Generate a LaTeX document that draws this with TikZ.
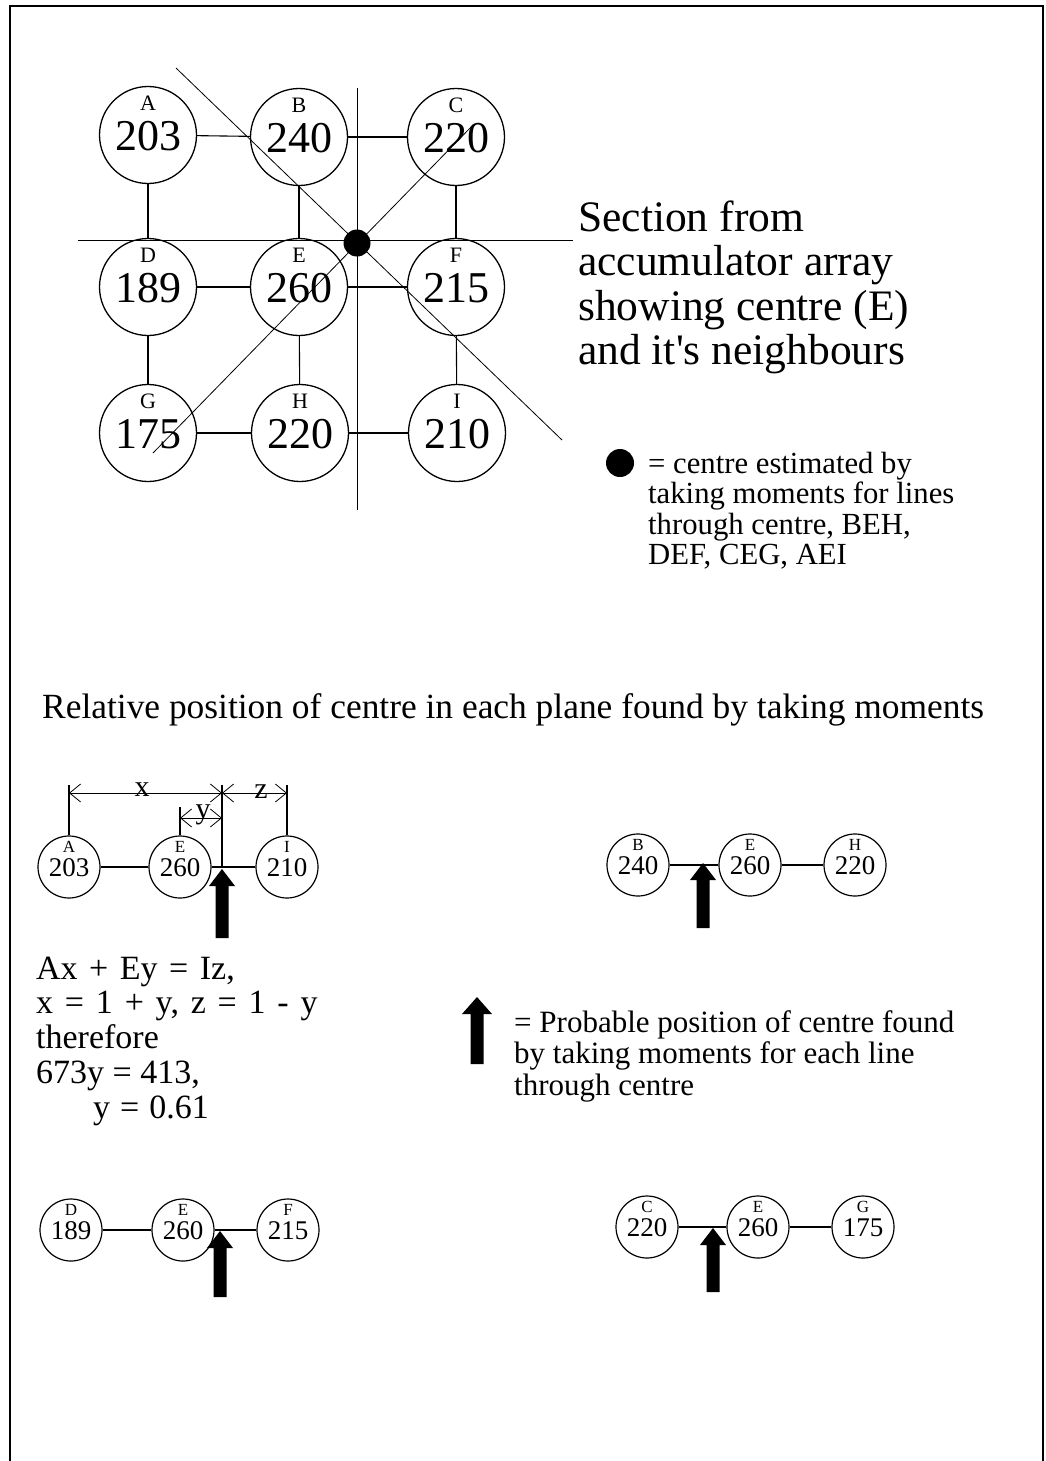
\documentclass[tikz,border=0pt]{standalone}
\usepackage{fontspec}
\setmainfont{Liberation Serif}
\usetikzlibrary{arrows.meta}
\newcommand\fatarrow[4]{% x, tip y, bottom y, head half-width
  \fill (#1,#2) -- (#1+#4,#2+17) -- (#1+6.5,#2+17) -- (#1+6.5,#3) -- (#1-6.5,#3) -- (#1-6.5,#2+17) -- (#1-#4,#2+17) -- cycle;}
\begin{document}
\begin{tikzpicture}[x=1pt,y=-1pt,
  bigcell/.style={circle,draw,line width=1.3pt,minimum size=97pt,inner sep=0pt},
  bignum/.style={font=\fontsize{44}{44}\selectfont,inner sep=0pt},
  biglet/.style={font=\fontsize{22}{22}\selectfont,inner sep=0pt},
  smallcell/.style={circle,draw,line width=1.2pt,minimum size=62pt,inner sep=0pt},
  smallnum/.style={font=\fontsize{27}{27}\selectfont,inner sep=0pt},
  smalllet/.style={font=\fontsize{17}{17}\selectfont,inner sep=0pt},
  link/.style={line width=1.1pt},
  guide/.style={line width=0.8pt},
  dim/.style={line width=0.8pt,{Straight Barb[length=11pt,width=18pt]}-{Straight Barb[length=11pt,width=18pt]}},
  dimlab/.style={font=\fontsize{30}{30}\selectfont,inner sep=0pt},
  txt/.style={anchor=base west,inner sep=0pt}
]
\useasboundingbox (0,0) rectangle (1046,1461);
\draw[line width=2.5pt] (10,1461) -- (10,6) -- (1043,6) -- (1043,1461);

% ---- top grid ----
\foreach \n/\x/\y/\v in {A/148/135/203,B/299/137/240,C/456/137/220,
                         D/148/287/189,E/299/287/260,F/456/287/215,
                         G/148/433/175,H/300/433/220,I/457/433/210}{
  \node[bigcell] (\n) at (\x,\y) {};
  \node[bignum,yshift=-1pt] at (\n) {\v};
  \node[biglet,yshift=32pt] at (\n) {\n};
}
\foreach \p/\q in {A/B,B/C,D/E,E/F,G/H,H/I,A/D,B/E,C/F,D/G,E/H,F/I}{
  \draw[link] (\p) -- (\q);
}
\node[circle,fill,minimum size=27pt,inner sep=0pt] (O) at (357,243) {};
\coordinate (v1) at (357,88);  \coordinate (v2) at (357,510);
\coordinate (h1) at (78,240);  \coordinate (h2) at (573,240);
\coordinate (d1) at (176,68);  \coordinate (d2) at (562,440);
\coordinate (e1a) at (473,125); \coordinate (e2a) at (153,453);
\draw[guide] (v1) -- (v2);
\draw[guide] (h1) -- (h2);
\draw[guide] (d1) -- (d2);
\draw[guide] (e1a) -- (e2a);

\begin{scope}[font=\fontsize{43.5}{44}\selectfont]
\node[txt] (s1) at (578,231) {Section from};
\node[txt] (s2) at (578,275.5) {accumulator array};
\node[txt] (s3) at (578,320) {showing centre (E)};
\node[txt] (s4) at (578,364.5) {and it\textquotesingle s neighbours};
\end{scope}

\node[circle,fill,minimum size=28pt,inner sep=0pt] (L1) at (620,463) {};
\begin{scope}[font=\fontsize{30.7}{31}\selectfont]
\node[txt] (l1) at (648,473) {= centre estimated by};
\node[txt] (l2) at (648,503.5) {taking moments for lines};
\node[txt] (l3) at (648,534) {through centre, BEH,};
\node[txt] (l4) at (648,564.5) {DEF, CEG, AEI};
\end{scope}

\node[txt,font=\fontsize{35.4}{36}\selectfont] (rel) at (42,718)
  {Relative position of centre in each plane found by taking moments};

% ---- small diagrams ----
\foreach \n/\l/\x/\y/\v in {a1/A/69/867/203,e1/E/180/867/260,i1/I/287/867/210,
                            b2/B/638/865/240,e2/E/750/865/260,h2/H/855/865/220,
                            d3/D/71/1230/189,e3/E/183/1230/260,f3/F/288/1230/215,
                            c4/C/647/1227/220,e4/E/758/1227/260,g4/G/863/1227/175}{
  \node[smallcell] (\n) at (\x,\y) {};
  \node[smallnum,yshift=-1pt] at (\n) {\v};
  \node[smalllet,yshift=20.5pt] at (\n) {\l};
}
\foreach \p/\q in {a1/e1,e1/i1,b2/e2,e2/h2,d3/e3,e3/f3,c4/e4,e4/g4}{
  \draw[link] (\p) -- (\q);
}

% dimensions
\coordinate (xa) at (69,785);
\coordinate (pc) at (222,867); \coordinate (pt) at (222,785);
\coordinate (ie) at (287,785);
\coordinate (ey) at (180,807);
\draw[link] (a1) -- (xa);
\draw[link] (pc) -- (pt);
\draw[link] (i1) -- (ie);
\draw[link] (e1) -- (ey);
\coordinate (dxa) at (69,793); \coordinate (dxb) at (222,793); \coordinate (dzb) at (287,793);
\coordinate (dya) at (180,818); \coordinate (dyb) at (222,818);
\draw[dim] (dxa) -- (dxb);
\draw[dim] (dxb) -- (dzb);
\draw[dim] (dya) -- (dyb);
\node[dimlab] (lx) at (142,790) {x};
\node[dimlab] (lz) at (261,792) {z};
\node[dimlab] (ly) at (203,815) {y};

\fatarrow{222}{869}{938}{13}
\fatarrow{703}{863}{928}{13}
\fatarrow{220}{1231}{1297}{13}
\fatarrow{713}{1228}{1292}{13}
\fatarrow{477}{997}{1064}{15}

\begin{scope}[font=\fontsize{34}{35}\selectfont]
\node[txt] (q1) at (36,979) {\spaceskip=11.5pt Ax + Ey = Iz,};
\node[txt] (q2) at (36,1013.7) {\spaceskip=11.8pt x = 1 + y, z = 1 - y};
\node[txt] (q3) at (36,1048.4) {therefore};
\node[txt] (q4) at (36,1083) {673y = 413,};
\node[txt] (q5) at (93,1118) {\spaceskip=10pt y = 0.61};
\end{scope}

\begin{scope}[font=\fontsize{31}{31.5}\selectfont]
\node[txt] (p1) at (514,1032) {= Probable position of centre found};
\node[txt] (p2) at (514,1063.5) {by taking moments for each line};
\node[txt] (p3) at (514,1095) {through centre};
\end{scope}
\end{tikzpicture}
\end{document}
